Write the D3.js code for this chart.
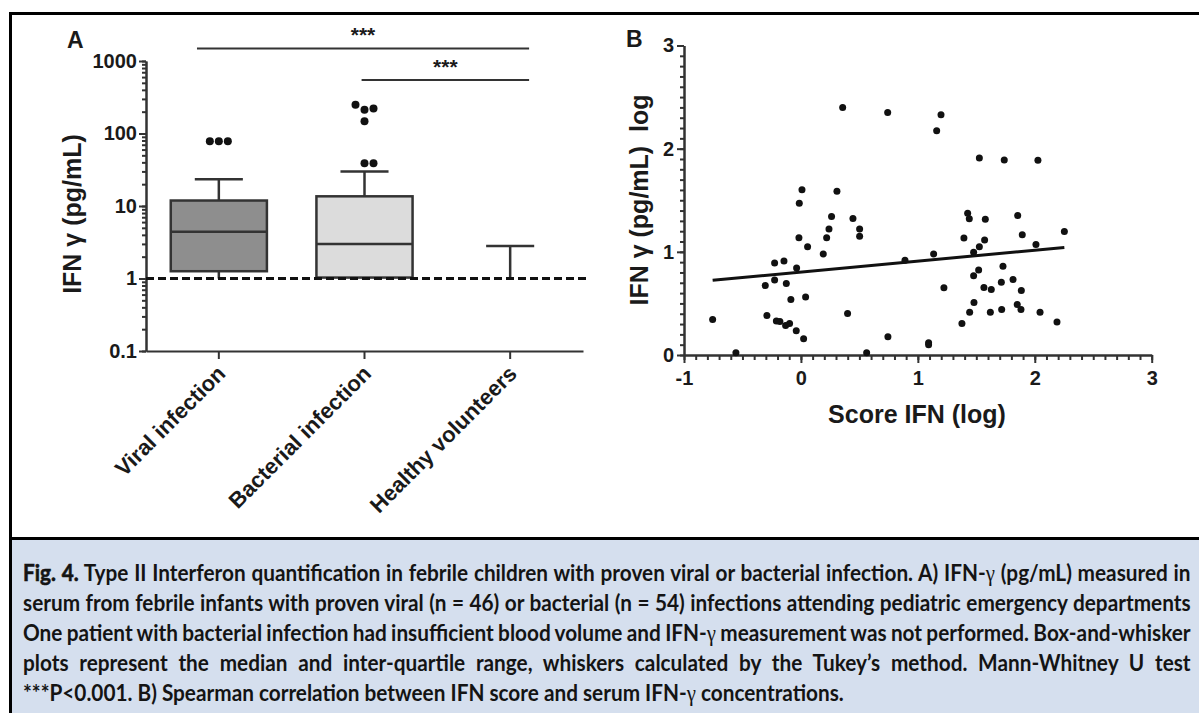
<!DOCTYPE html>
<html>
<head>
<meta charset="utf-8">
<script src="https://cdn.jsdelivr.net/npm/d3@7"></script>
<style>
  body { margin: 0; background: #fff; }
  svg { display: block; }
  .lbl { font-family: "Liberation Sans", Arial, sans-serif; font-weight: bold; fill: #1a1a1a; }
</style>
</head>
<body>
<svg id="fig" width="1199" height="713"></svg>
<script>
// A. box plot values (pg/mL)
const groups = ['Viral infection', 'Bacterial infection', 'Healthy volunteers'];
const whiskerLow = [1.0, 1.0, 1.0];
const quart1 = [1.26, 1.03, 1.0];
const medians = [4.4, 3.0, 1.0];
const quart3 = [11.9, 13.6, 1.0];
const whiskerHigh = [23.3, 29.9, 2.8];
const outliers = [[78, 78, 78], [39, 39, 147, 213, 222, 250], []];
const boxFill = ['#8e8e8e', '#dcdcdc', '#dcdcdc'];
const detectionLimit = 1;
// significance bars, ends in category units
const sigFrom = [-0.15, 0.98];
const sigTo = [2.13, 2.13];
const sigLevel = [1490, 545];
const sigText = ['***', '***'];

// B. scatter, Score IFN (log) vs IFN gamma log
const scoreIFN = [-0.755, -0.556, -0.305, -0.291, -0.225, -0.225, -0.21, -0.18, -0.145, -0.125,
  -0.131, -0.097, -0.086, -0.04, -0.037, -0.014, -0.017, 0.023, 0.04, 0.057,
  0.191, 0.22, 0.24, 0.262, 0.399, 0.445, 0.502, 0.502, 0.562, 0.744,
  0.357, 0.742, 0.009, 0.308,
  1.198, 1.161, 1.526, 1.739, 2.027, 1.426, 1.44, 1.577, 1.854,
  2.253, 1.394, 1.571, 1.893, 2.01, 1.526, 1.477, 1.135, 0.89, 1.52, 1.728,
  1.477, 1.714, 1.814, 1.223, 1.565, 1.628, 1.885, 1.48, 1.443, 1.62,
  1.717, 1.85, 1.882, 2.045, 1.377, 2.19, 1.092, 1.092];
const ifnLog = [0.345, 0.022, 0.673, 0.383, 0.892, 0.728, 0.33, 0.325, 0.911, 0.692,
  0.287, 0.306, 0.538, 0.235, 0.844, 1.472, 1.137, 0.158, 0.563, 1.05,
  0.979, 1.137, 1.221, 1.343, 0.403, 1.324, 1.221, 1.15, 0.022, 0.177,
  2.399, 2.351, 1.601, 1.588,
  2.329, 2.174, 1.91, 1.891, 1.887, 1.375, 1.32, 1.317, 1.353,
  1.198, 1.134, 1.114, 1.166, 1.072, 1.05, 0.995, 0.979, 0.918, 0.825, 0.86,
  0.767, 0.705, 0.731, 0.651, 0.654, 0.634, 0.625, 0.509, 0.415, 0.415,
  0.441, 0.49, 0.441, 0.415, 0.306, 0.319, 0.119, 0.1];
const regSlope = 0.106;
const regIntercept = 0.804;

const captionLines = [
  'Fig. 4. Type II Interferon quantification in febrile children with proven viral or bacterial infection. A) IFN-γ (pg/mL) measured in',
  'serum from febrile infants with proven viral (n = 46) or bacterial (n = 54) infections attending pediatric emergency departments',
  'One patient with bacterial infection had insufficient blood volume and IFN-γ measurement was not performed. Box-and-whisker',
  'plots represent the median and inter-quartile range, whiskers calculated by the Tukey’s method. Mann-Whitney U test',
  '***P<0.001. B) Spearman correlation between IFN score and serum IFN-γ concentrations.'
];

const svg = d3.select('#fig');
const ink = '#333';

// frame and caption background
svg.append('rect').attr('x', 12).attr('y', 540).attr('width', 1187).attr('height', 173).attr('fill', '#d5dfee');
svg.append('path').attr('d', 'M10.5,713V13.5H1199').attr('fill', 'none').attr('stroke', '#000').attr('stroke-width', 3);
svg.append('line').attr('x1', 10).attr('x2', 1199).attr('y1', 538.5).attr('y2', 538.5).attr('stroke', '#000').attr('stroke-width', 3);

function styleAxis(g) {
  g.selectAll('path, line').attr('stroke', ink).attr('stroke-width', 2);
  g.selectAll('text').attr('class', 'lbl').attr('font-size', 20);
}

// ---------- panel A ----------
const gA = svg.append('g');
const yA = d3.scaleLog().domain([0.1, 1000]).range([351, 61]);
const xA = d3.scaleBand().domain(groups).range([146, 583]);
const boxW = xA.bandwidth() * 0.66;
const cx = d => xA(d) + xA.bandwidth() / 2;

gA.append('g').attr('transform', 'translate(146,0)')
  .call(d3.axisLeft(yA).tickValues(yA.ticks()).tickSize(4).tickSizeOuter(0).tickFormat(''))
  .call(styleAxis);
gA.append('g').attr('transform', 'translate(146,0)')
  .call(d3.axisLeft(yA).tickValues([0.1, 1, 10, 100, 1000]).tickSize(7).tickPadding(2).tickSizeOuter(0).tickFormat(d => String(d)))
  .call(styleAxis);
gA.append('g').attr('transform', 'translate(0,351)')
  .call(d3.axisBottom(xA).tickSize(8).tickSizeOuter(0).tickFormat(''))
  .call(styleAxis);

gA.selectAll('.xlab').data(groups).enter().append('text')
  .attr('class', 'lbl').attr('font-size', 22).attr('text-anchor', 'end')
  .attr('transform', d => `translate(${cx(d) + 8},${375}) rotate(-45)`)
  .text(d => d);

gA.append('text').attr('class', 'lbl').attr('font-size', 25).attr('text-anchor', 'middle')
  .attr('dominant-baseline', 'central')
  .attr('transform', 'translate(72,214) rotate(-90)')
  .text('IFN γ (pg/mL)');
gA.append('text').attr('class', 'lbl').attr('font-size', 23).attr('x', 67).attr('y', 48).text('A');

// boxes
groups.forEach((g, i) => {
  const c = cx(g);
  const box = gA.append('g').attr('stroke', ink).attr('stroke-width', 2.5);
  box.append('line').attr('x1', c).attr('x2', c).attr('y1', yA(whiskerHigh[i])).attr('y2', yA(quart3[i]));
  box.append('line').attr('x1', c - boxW / 4).attr('x2', c + boxW / 4).attr('y1', yA(whiskerHigh[i])).attr('y2', yA(whiskerHigh[i]));
  box.append('line').attr('x1', c).attr('x2', c).attr('y1', yA(quart1[i])).attr('y2', yA(whiskerLow[i]));
  if (quart3[i] > quart1[i]) {
    box.append('rect').attr('x', c - boxW / 2).attr('width', boxW)
      .attr('y', yA(quart3[i])).attr('height', yA(quart1[i]) - yA(quart3[i]))
      .attr('fill', boxFill[i]);
    box.append('line').attr('x1', c - boxW / 2).attr('x2', c + boxW / 2).attr('y1', yA(medians[i])).attr('y2', yA(medians[i]));
  }

  // outliers, spread sideways where they overlap
  const r = 4, step = 9, placed = [];
  outliers[i].slice().sort((a, b) => a - b).forEach(v => {
    const y = yA(v);
    const offs = [0, step, -step, 2 * step, -2 * step];
    let dx = 0;
    for (const o of offs) {
      if (!placed.some(p => Math.hypot(p.x - o, p.y - y) < 2 * r + 0.5)) { dx = o; break; }
    }
    placed.push({ x: dx, y: y });
  });
  gA.selectAll(null).data(placed).enter().append('circle')
    .attr('cx', p => c + p.x).attr('cy', p => p.y).attr('r', r).attr('fill', '#111');
});

// detection limit
gA.append('line').attr('x1', 146).attr('x2', 586).attr('y1', yA(detectionLimit)).attr('y2', yA(detectionLimit))
  .attr('stroke', '#111').attr('stroke-width', 3).attr('stroke-dasharray', '8,4');

// significance bars
const catX = v => xA(groups[0]) + xA.bandwidth() / 2 + v * xA.step();
sigLevel.forEach((lv, i) => {
  gA.append('line').attr('x1', catX(sigFrom[i])).attr('x2', catX(sigTo[i]))
    .attr('y1', yA(lv)).attr('y2', yA(lv)).attr('stroke', ink).attr('stroke-width', 2);
  gA.append('text').attr('class', 'lbl').attr('font-size', 21).attr('text-anchor', 'middle')
    .attr('x', (catX(sigFrom[i]) + catX(sigTo[i])) / 2).attr('y', yA(lv) - 6).attr('fill', '#333')
    .text(sigText[i]);
});

// ---------- panel B ----------
const gB = svg.append('g');
const xB = d3.scaleLinear().domain([-1, 3]).range([684, 1151.7]);
const yB = d3.scaleLinear().domain([0, 3]).range([355, 45.5]);
const minorX = d3.range(-10, 31).map(k => k / 10);
const minorY = d3.range(0, 31).map(k => k / 10);

gB.append('g').attr('transform', 'translate(684,0)')
  .call(d3.axisLeft(yB).tickValues(minorY).tickSize(4).tickSizeOuter(0).tickFormat(''))
  .call(styleAxis);
gB.append('g').attr('transform', 'translate(684,0)')
  .call(d3.axisLeft(yB).tickValues([0, 1, 2, 3]).tickSize(7).tickPadding(3).tickSizeOuter(0).tickFormat(d3.format('d')))
  .call(styleAxis);
gB.append('g').attr('transform', 'translate(0,355)')
  .call(d3.axisBottom(xB).tickValues(minorX).tickSize(5).tickSizeOuter(0).tickFormat(''))
  .call(styleAxis);
gB.append('g').attr('transform', 'translate(0,355)')
  .call(d3.axisBottom(xB).tickValues([-1, 0, 1, 2, 3]).tickSize(8).tickPadding(8).tickSizeOuter(0).tickFormat(d => d < 0 ? '-' + Math.abs(d) : String(d)))
  .call(styleAxis);

gB.append('text').attr('class', 'lbl').attr('font-size', 25).attr('text-anchor', 'middle')
  .attr('dominant-baseline', 'central').style('white-space', 'pre')
  .attr('transform', 'translate(639,200) rotate(-90)')
  .text('IFN γ (pg/mL)  log');
gB.append('text').attr('class', 'lbl').attr('font-size', 25).attr('text-anchor', 'middle')
  .attr('x', 917).attr('y', 423).text('Score IFN (log)');
gB.append('text').attr('class', 'lbl').attr('font-size', 23).attr('x', 626).attr('y', 47).text('B');

gB.selectAll('circle').data(scoreIFN).enter().append('circle')
  .attr('cx', d => xB(d)).attr('cy', (d, i) => yB(ifnLog[i])).attr('r', 3.5).attr('fill', '#111');

const regX = d3.extent(scoreIFN);
gB.append('line')
  .attr('x1', xB(regX[0])).attr('y1', yB(regIntercept + regSlope * regX[0]))
  .attr('x2', xB(regX[1])).attr('y2', yB(regIntercept + regSlope * regX[1]))
  .attr('stroke', '#111').attr('stroke-width', 3);

// ---------- caption ----------
// a condensed face is not installed, so Lato is squeezed horizontally
const capLeft = 23, capRight = 1191;
const baselines = [581, 611, 641, 671, 701];
const capFont = 'Lato, "Liberation Sans", Arial, sans-serif';
const capSize = 23;

function addCaptionLine(str, i) {
  const t = svg.append('text').attr('x', 0).attr('y', 0)
    .attr('font-family', capFont).attr('font-size', capSize).attr('font-weight', 'bold')
    .attr('fill', '#141414').style('white-space', 'pre');
  let rest = str;
  if (i === 0) {
    t.append('tspan').attr('stroke', '#141414').attr('stroke-width', 0.6).text('Fig. 4.');
    rest = str.slice(7);
  }
  rest.split('γ').forEach((part, k) => {
    if (k > 0) t.append('tspan').attr('font-family', '"Liberation Serif", "DejaVu Serif", serif').attr('font-weight', 'normal').text('γ');
    t.append('tspan').text(part);
  });
  return t;
}

// squeeze so the last (unjustified) line spans the same width as the original
const probe = addCaptionLine(captionLines[4], 4);
const sx = 821 / probe.node().getComputedTextLength();
probe.remove();

captionLines.forEach((str, i) => {
  const t = addCaptionLine(str, i);
  if (i < 4) {
    const natural = t.node().getComputedTextLength();
    const spaces = (str.match(/ /g) || []).length;
    t.style('word-spacing', ((capRight - capLeft) / sx - natural) / spaces + 'px');
  }
  t.attr('transform', `translate(${capLeft},${baselines[i]}) scale(${sx},1)`);
});
</script>
</body>
</html>
